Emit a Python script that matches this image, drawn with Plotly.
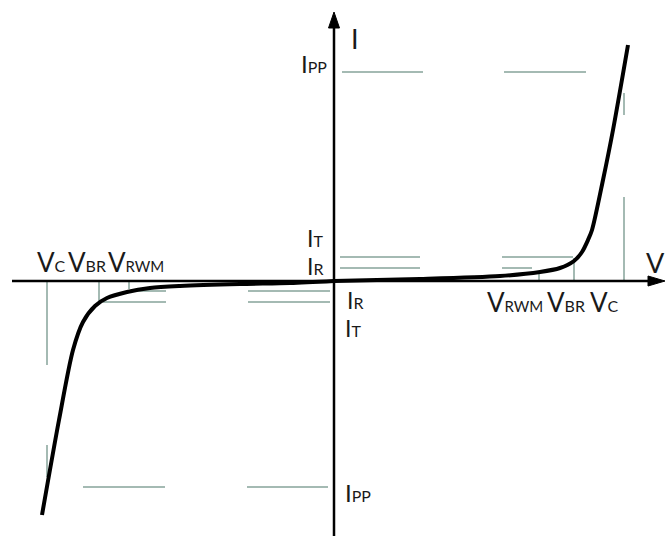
import plotly.graph_objects as go

# Transient-voltage-suppressor I-V characteristic, arbitrary units
# (1 unit of V or I = 10 px on the page, origin at the axes crossing)
v_fwd = [0, 8.6, 16.6, 20.6, 22.6, 24.0, 24.8, 25.4, 25.8, 26.9, 27.9, 29.4]
i_fwd = [0, 0.2, 0.5, 0.9, 1.3, 2.0, 2.9, 4.1, 5.1, 10.1, 15.1, 23.6]

v_rev = [-29.2, -27.5, -26.1, -25.1, -23.9, -22.7, -20.7, -18.4, -15.4, -9.4, -4.4, 0]
i_rev = [-23.4, -13.9, -6.9, -4.1, -2.5, -1.7, -1.1, -0.7, -0.5, -0.3, -0.2, 0]

# characteristic levels, positive / negative branch
levels_pos = {"I_T": 2.4, "I_R": 1.3, "I_PP": 20.9,
              "V_RWM": 20.5, "V_BR": 24.0, "V_C": 29.0}
levels_neg = {"I_T": -2.1, "I_R": -1.0, "I_PP": -20.6,
              "V_RWM": -20.5, "V_BR": -23.5, "V_C": -28.7}

# extents of the guide dashes
near_pos = (0.6, 8.6)
near_neg = (-8.6, -0.4)
ipp_pos = [(0.8, 8.9), (17.0, 25.2)]
ipp_neg = [(-25.1, -16.9), (-8.7, -0.6)]
knee_it_pos, knee_ir_pos = (16.8, 23.9), (16.8, 19.8)
knee_it_neg, knee_ir_neg = (-23.1, -16.8), (-19.8, -16.8)
vdrop_pos = {"V_RWM": 1.0, "V_BR": 2.3, "V_C": 8.4}
vdrop_neg = {"V_RWM": -0.8, "V_BR": -2.1, "V_C": -8.4}
vc_upper_pos = (16.6, 18.8)
vc_lower_neg = (-16.4, -19.6)

V_MIN, V_MAX = -33.4, 33.8
I_MIN, I_MAX = -25.5, 28.1

gx, gy = [], []


def hseg(x0, x1, y):
    gx.extend([x0, x1, None])
    gy.extend([y, y, None])


def vseg(x, y0, y1):
    gx.extend([x, x, None])
    gy.extend([y0, y1, None])


for lv, near, ipps, kit, kir, vdrop, extra in (
        (levels_pos, near_pos, ipp_pos, knee_it_pos, knee_ir_pos, vdrop_pos, vc_upper_pos),
        (levels_neg, near_neg, ipp_neg, knee_it_neg, knee_ir_neg, vdrop_neg, vc_lower_neg)):
    hseg(*near, lv["I_T"])
    hseg(*near, lv["I_R"])
    hseg(*kit, lv["I_T"])
    hseg(*kir, lv["I_R"])
    for a, b in ipps:
        hseg(a, b, lv["I_PP"])
    for key in ("V_RWM", "V_BR", "V_C"):
        vseg(lv[key], 0, vdrop[key])
    vseg(lv["V_C"], *extra)

fig = go.Figure()

fig.add_trace(go.Scatter(x=gx, y=gy, mode="lines",
                         line=dict(color="#86a39a", width=1.5),
                         hoverinfo="skip", showlegend=False))

for vx, iy in ((v_fwd, i_fwd), (v_rev, i_rev)):
    fig.add_trace(go.Scatter(x=vx, y=iy, mode="lines",
                             line=dict(color="black", width=4, shape="spline", smoothing=0.8),
                             hoverinfo="skip", showlegend=False))

# axes with arrowheads
fig.add_trace(go.Scatter(x=[-32.2, 32.0], y=[0, 0], mode="lines",
                         line=dict(color="black", width=2.5),
                         hoverinfo="skip", showlegend=False))
fig.add_trace(go.Scatter(x=[0, 0], y=[I_MIN, 25.8], mode="lines",
                         line=dict(color="black", width=2.5),
                         hoverinfo="skip", showlegend=False))
fig.add_trace(go.Scatter(x=[33.1, 31.4, 31.4, 33.1], y=[0, 0.5, -0.5, 0],
                         mode="lines", fill="toself", fillcolor="black",
                         line=dict(color="black", width=1),
                         hoverinfo="skip", showlegend=False))
fig.add_trace(go.Scatter(x=[0, -0.55, 0.55, 0], y=[26.9, 25.3, 25.3, 26.9],
                         mode="lines", fill="toself", fillcolor="black",
                         line=dict(color="black", width=1),
                         hoverinfo="skip", showlegend=False))

TXT = "#1a1a1a"


def lab(main, sub, x, y, anchor="left", big=26, small=16):
    text = main if not sub else f'{main}<span style="font-size:{small}px">{sub}</span>'
    fig.add_annotation(x=x, y=y, text=text, showarrow=False,
                       xanchor=anchor, yanchor="middle",
                       font=dict(family="Lato", size=big, color=TXT),
                       borderpad=0, borderwidth=0)


lab("I", "", 1.7, 24.3, big=27)
lab("V", "", 31.2, 1.9, big=27)
lab("I", "PP", -0.7, 21.8, "right", big=24, small=16)
lab("I", "PP", 1.1, -21.1, big=24, small=16)
lab("I", "T", -1.1, 4.3, "right", big=23, small=16)
lab("I", "R", -1.1, 1.5, "right", big=23, small=16)
lab("I", "R", 1.3, -1.9, big=23, small=16)
lab("I", "T", 1.1, -4.7, big=23, small=16)

lab("V", "C", -29.7, 1.9)
lab("V", "BR", -26.6, 1.9)
lab("V", "RWM", -22.6, 1.9, small=15)
lab("V", "RWM", 15.3, -2.1, small=15)
lab("V", "BR", 21.3, -2.1)
lab("V", "C", 25.6, -2.1)

fig.update_layout(
    width=672, height=536,
    margin=dict(l=0, r=0, t=0, b=0),
    paper_bgcolor="white", plot_bgcolor="white",
    xaxis=dict(range=[V_MIN, V_MAX], visible=False, fixedrange=True),
    yaxis=dict(range=[I_MIN, I_MAX], visible=False, fixedrange=True),
    showlegend=False,
)

fig.write_html("out.html")
